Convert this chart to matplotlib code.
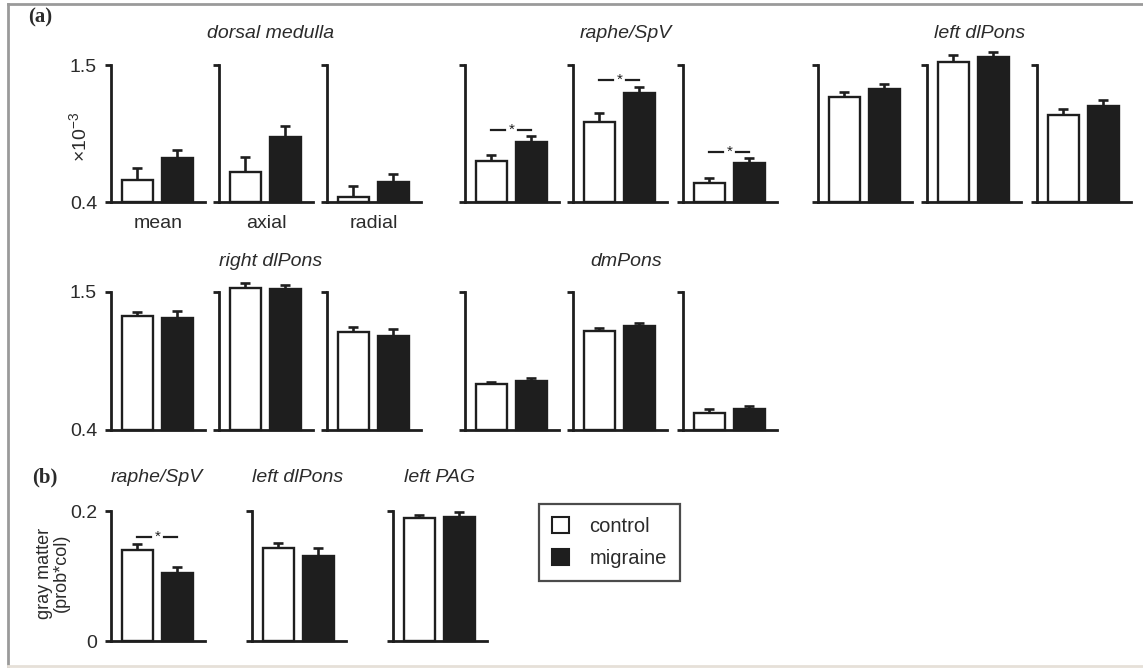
import matplotlib
matplotlib.use("Agg")
import matplotlib.pyplot as plt
from matplotlib.lines import Line2D
from matplotlib.patches import Patch

plt.rcParams["font.family"] = ["Liberation Sans", "DejaVu Sans"]
plt.rcParams["mathtext.fontset"] = "custom"
plt.rcParams["mathtext.rm"] = "Liberation Sans"
plt.rcParams["mathtext.it"] = "Liberation Sans:italic"

# (a) diffusivity per region and measure (x10^-3)
dti_regions = ["dorsal medulla", "raphe/SpV", "left dlPons", "right dlPons", "dmPons"]
measures = ["mean", "axial", "radial"]
control_mean = [
    [0.577, 0.641, 0.440],
    [0.729, 1.043, 0.553],
    [1.243, 1.524, 1.099],
    [1.309, 1.530, 1.181],
    [0.767, 1.189, 0.535],
]
control_err = [
    [0.096, 0.120, 0.090],
    [0.048, 0.072, 0.040],
    [0.041, 0.056, 0.048],
    [0.032, 0.040, 0.039],
    [0.016, 0.024, 0.032],
]
migraine_mean = [
    [0.753, 0.922, 0.560],
    [0.882, 1.275, 0.713],
    [1.308, 1.565, 1.171],
    [1.293, 1.520, 1.149],
    [0.790, 1.229, 0.567],
]
migraine_err = [
    [0.065, 0.088, 0.065],
    [0.048, 0.049, 0.040],
    [0.040, 0.040, 0.048],
    [0.056, 0.036, 0.056],
    [0.024, 0.024, 0.023],
]
# height of the significance bracket (None = no marker)
dti_sig = [
    [None, None, None],
    [0.98, 1.38, 0.80],
    [None, None, None],
    [None, None, None],
    [None, None, None],
]

# (b) gray matter (prob*col)
gm_regions = ["raphe/SpV", "left dlPons", "left PAG"]
gm_control = [0.140, 0.143, 0.189]
gm_control_err = [0.009, 0.008, 0.005]
gm_migraine = [0.105, 0.131, 0.191]
gm_migraine_err = [0.009, 0.012, 0.007]
gm_sig = [0.160, None, None]

W, H = 1143, 669
INK = "#1e1e1e"
TXT = "#2b2b2b"
FS = 14

fig = plt.figure(figsize=(W / 100, H / 100), dpi=100)


def px_axes(x0, y_top, width, y_bot):
    return fig.add_axes([x0 / W, 1 - y_bot / H, width / W, (y_bot - y_top) / H])


def text_px(x, y, s, **kw):
    kw.setdefault("color", TXT)
    kw.setdefault("fontsize", FS)
    fig.text(x / W, 1 - y / H, s, ha=kw.pop("ha", "center"),
             va=kw.pop("va", "center"), **kw)


def bar_pair(ax, ylo, yhi, c, ce, m, me, sig, labels):
    ax.bar([0], [c - ylo], bottom=ylo, width=0.775, color="white",
           edgecolor=INK, linewidth=1.7, clip_on=False, zorder=2)
    ax.bar([1], [m - ylo], bottom=ylo, width=0.775, color=INK,
           edgecolor=INK, linewidth=1.7, clip_on=False, zorder=2)
    for x, v, e in [(0, c, ce), (1, m, me)]:
        ax.errorbar([x], [v], yerr=[[0], [e]], fmt="none", ecolor=INK,
                    elinewidth=1.9, capsize=3.8, capthick=1.9,
                    clip_on=False, zorder=1)
    if sig is not None:
        ax.plot([0, 0.33], [sig, sig], color=INK, lw=1.6, clip_on=False)
        ax.plot([0.67, 1.0], [sig, sig], color=INK, lw=1.6, clip_on=False)
        ax.text(0.5, sig, "*", ha="center", va="center", fontsize=11,
                color=INK, clip_on=False)
    ax.set_xlim(-0.66, 1.69)
    ax.set_ylim(ylo, yhi)
    for side in ("top", "right"):
        ax.spines[side].set_visible(False)
    for side in ("left", "bottom"):
        ax.spines[side].set_linewidth(2.0)
        ax.spines[side].set_color(INK)
    ax.set_xticks([])
    ax.set_yticks([ylo, yhi])
    ax.tick_params(axis="y", direction="out", length=4, width=2.0,
                   color=INK, labelsize=FS, labelcolor=TXT, pad=6)
    if labels:
        ax.set_yticklabels([f"{ylo:g}", f"{yhi:g}"])
    else:
        ax.set_yticklabels([])
    ax.patch.set_alpha(0)


col_x = [111, 219, 327, 465, 573, 683, 818, 927, 1037]
rows = [(65, 202), (292, 430)]
AX_W = 94

for r, region in enumerate(dti_regions):
    row = 0 if r < 3 else 1
    grp = r if r < 3 else r - 3
    y_top, y_bot = rows[row]
    for k in range(3):
        x0 = col_x[grp * 3 + k]
        ax = px_axes(x0, y_top, AX_W, y_bot)
        bar_pair(ax, 0.4, 1.5,
                 control_mean[r][k], control_err[r][k],
                 migraine_mean[r][k], migraine_err[r][k],
                 dti_sig[r][k], labels=(grp == 0 and k == 0))
    mid = (col_x[grp * 3] + col_x[grp * 3 + 2] + AX_W) / 2
    text_px(mid + 5, y_top - 31, region, style="italic")

for k, m in enumerate(measures):
    text_px(col_x[k] + 47, 224, m)

text_px(79, 137, r"$\times10^{-3}$", rotation=90)
text_px(40, 17, "(a)", family=["Liberation Serif", "DejaVu Serif"],
        weight="bold", fontsize=15)

# (b) gray matter
gm_x = [111, 252, 393]
for i, region in enumerate(gm_regions):
    ax = px_axes(gm_x[i], 511, AX_W, 641)
    bar_pair(ax, 0, 0.2, gm_control[i], gm_control_err[i],
             gm_migraine[i], gm_migraine_err[i], gm_sig[i], labels=(i == 0))
    text_px(gm_x[i] + 46, 477, region, style="italic")

text_px(45, 477, "(b)", family=["Liberation Serif", "DejaVu Serif"],
        weight="bold", fontsize=15)
text_px(53, 573, "gray matter\n(prob*col)", rotation=90, fontsize=13,
        linespacing=1.0)

handles = [Patch(facecolor="white", edgecolor=INK, linewidth=1.5),
           Patch(facecolor=INK, edgecolor=INK, linewidth=1.5)]
leg = fig.legend(handles, ["control", "migraine"], loc="upper left",
                 bbox_to_anchor=(539 / W, 1 - 504 / H), fontsize=14.5,
                 frameon=True, fancybox=False, edgecolor=INK,
                 borderpad=0.65, handlelength=0.85, handleheight=0.85,
                 handletextpad=1.0, labelspacing=0.65, borderaxespad=0)
leg.get_frame().set_linewidth(1.6)
for t in leg.get_texts():
    t.set_color(TXT)

# thin frame around the figure
frame_kw = dict(color="#9a9a9a", lw=2.0, transform=fig.transFigure)
fig.add_artist(Line2D([8 / W, 8 / W], [1 - 4 / H, 1 - 666 / H], **frame_kw))
fig.add_artist(Line2D([8 / W, 1.0], [1 - 4 / H, 1 - 4 / H], **frame_kw))
fig.add_artist(Line2D([8 / W, 1.0], [1 - 666 / H, 1 - 666 / H],
                      color="#e6e0d8", lw=2.0, transform=fig.transFigure))

fig.savefig("out.png", dpi=100)
